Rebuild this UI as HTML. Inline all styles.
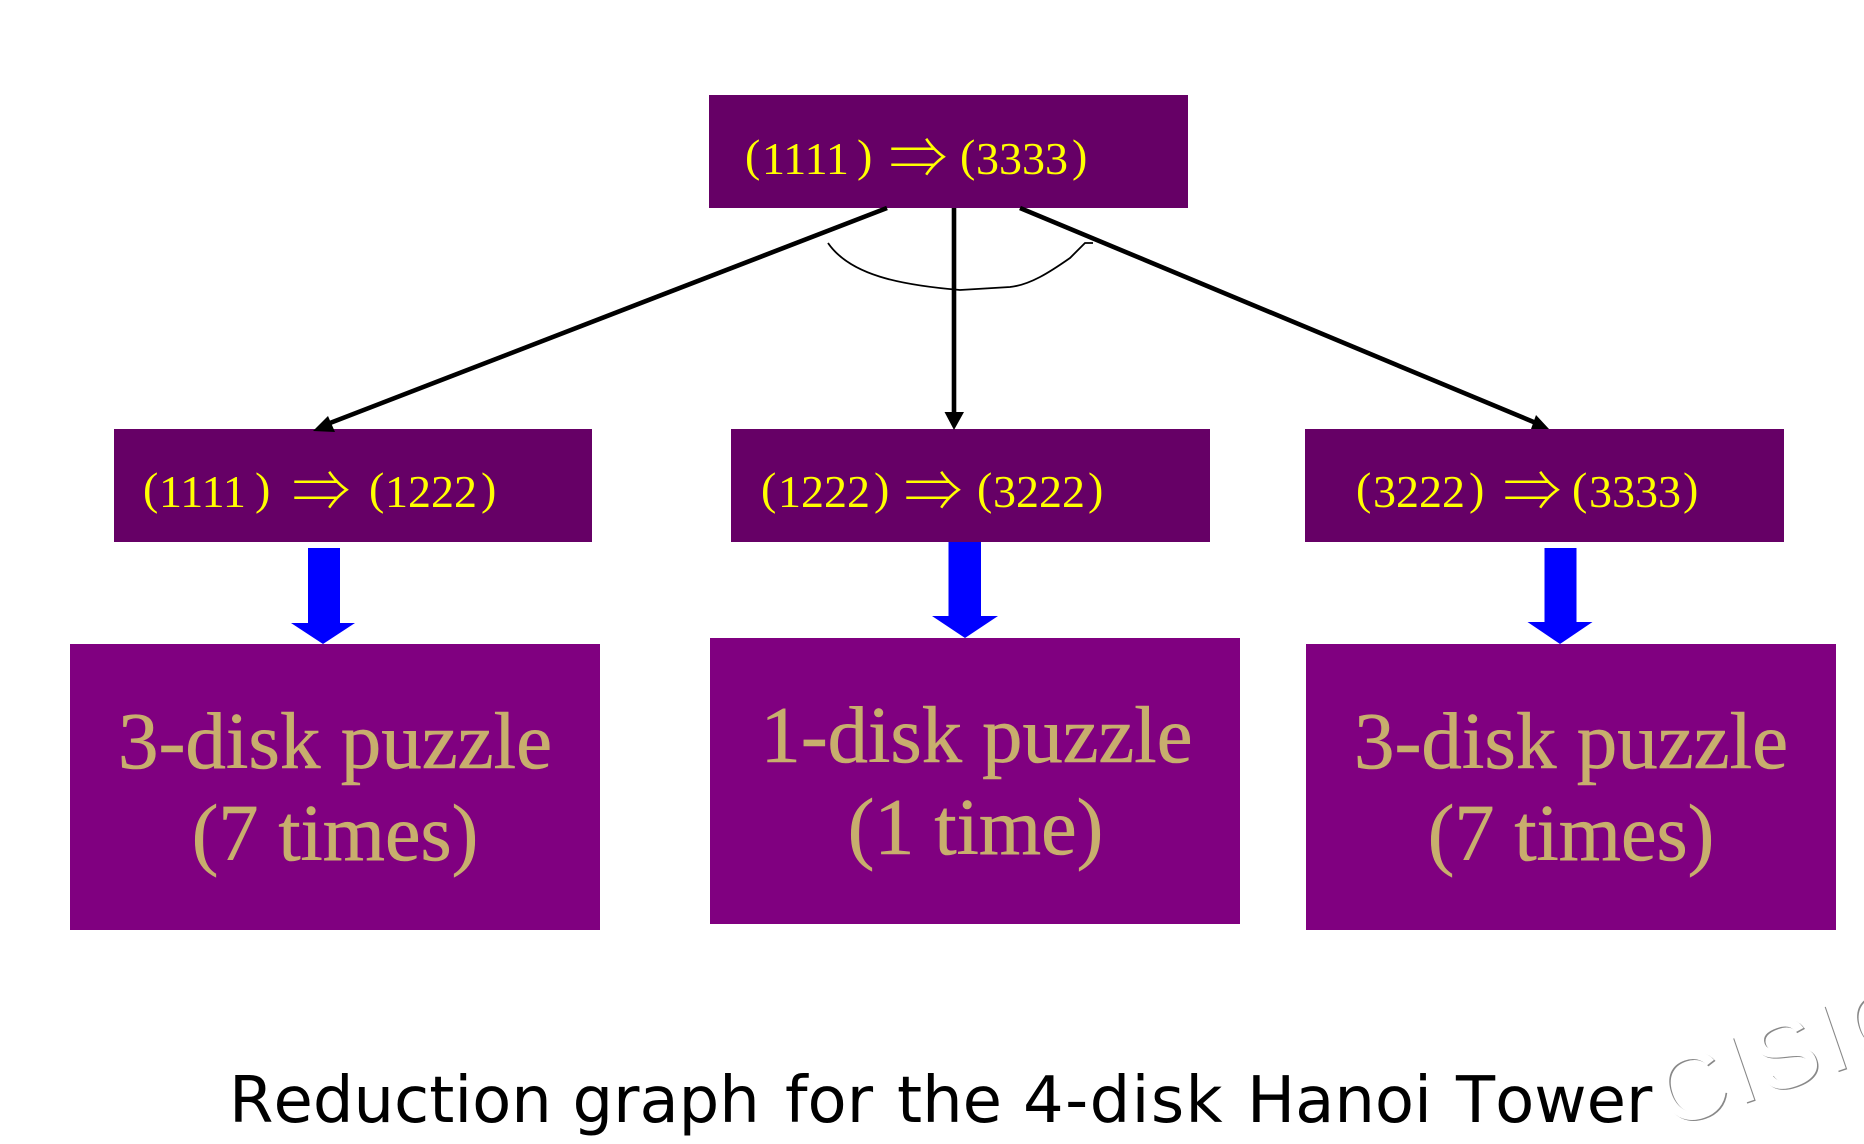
<!DOCTYPE html>
<html><head><meta charset="utf-8"><title>Reduction graph for the 4-disk Hanoi Tower</title>
<style>html,body{margin:0;padding:0;background:#fff;width:1864px;height:1144px;overflow:hidden}svg{display:block}
.t{font-family:"Liberation Serif",serif;font-size:46px;fill:#ff0}
.a{font-family:"Noto Serif CJK SC","Liberation Serif",serif;font-size:58px;fill:#ff0}
.b{font-family:"Liberation Serif",serif;font-size:81px;fill:#c8ae6d;stroke:#c8ae6d;stroke-width:.6px;text-anchor:middle}
.c{font-size:80px}
.d{font-size:80.6px}
</style></head><body>
<svg width="1864" height="1144" viewBox="0 0 1864 1144" xmlns="http://www.w3.org/2000/svg">
<rect width="1864" height="1144" fill="#fff"/>
<rect x="709" y="95" width="479" height="113" fill="#660066"/>
<rect x="114" y="429" width="478" height="113" fill="#660066"/>
<rect x="731" y="429" width="479" height="113" fill="#660066"/>
<rect x="1305" y="429" width="479" height="113" fill="#660066"/>
<rect x="70" y="644" width="530" height="286" fill="#800080"/>
<rect x="710" y="638" width="530" height="286" fill="#800080"/>
<rect x="1306" y="644" width="530" height="286" fill="#800080"/>
<g stroke="#000" stroke-width="4.6" fill="none">
<path d="M887 208L330 423"/><path d="M954 208V414"/><path d="M1020 208L1536 423"/>
</g>
<path d="M313 431L328 416L335 432Z M944.5 412H964L954 430Z M1549 429L1536 415L1531 429Z" fill="#000"/>
<path d="M828 243C850 275 900 285 960 290L1010 287C1030 285 1050 272 1070 258L1085 243H1093" fill="none" stroke="#000" stroke-width="1.8"/>
<path d="M308 548H340V623H355L323 644L291 623H308Z M948.5 542H981V616H998L965 638L932 616H948.5Z M1544.5 548H1576.5V622H1592.5L1560 644L1527.5 622H1544.5Z" fill="#00f"/>
<g class="t">
<text class="t" x="745" y="171">(</text><text class="t" x="762" y="174">1111</text><text class="t" x="857" y="171">)</text>
<text class="a" x="889" y="178">⇒</text>
<text class="t" x="960" y="171">(</text><text class="t" x="976" y="174">3333</text><text class="t" x="1072" y="171">)</text>
<text class="t" x="143" y="504">(</text><text class="t" x="159" y="507">1111</text><text class="t" x="255" y="504">)</text>
<text class="a" x="292" y="511">⇒</text>
<text class="t" x="369" y="504">(</text><text class="t" x="385" y="507">1222</text><text class="t" x="481" y="504">)</text>
<text class="t" x="761" y="504">(</text><text class="t" x="778" y="507">1222</text><text class="t" x="874" y="504">)</text>
<text class="a" x="904" y="511">⇒</text>
<text class="t" x="977" y="504">(</text><text class="t" x="993" y="507">3222</text><text class="t" x="1088" y="504">)</text>
<text class="t" x="1356" y="504">(</text><text class="t" x="1373" y="507">3222</text><text class="t" x="1469" y="504">)</text>
<text class="a" x="1503" y="511">⇒</text>
<text class="t" x="1572" y="504">(</text><text class="t" x="1589" y="507">3333</text><text class="t" x="1683" y="504">)</text>
</g>
<text class="b" x="335" y="768">3-disk puzzle</text><text class="b c" x="335" y="860">(7 times)</text>
<text class="b d" x="976.5" y="762">1-disk puzzle</text><text class="b c" x="975.5" y="854">(1 time)</text>
<text class="b" x="1571" y="768">3-disk puzzle</text><text class="b c" x="1571" y="860">(7 times)</text>
<text y="1122" font-family="'DejaVu Sans',sans-serif" font-size="64" fill="#000" style="font-kerning:none"><tspan x="229">Reduction</tspan> <tspan x="572.5">graph</tspan> <tspan x="785">for</tspan> <tspan x="897">the</tspan> <tspan x="1023" letter-spacing="1.4">4-disk</tspan> <tspan x="1247">Hanoi</tspan> <tspan x="1456">Tower</tspan></text>
<g font-family="'Liberation Sans',sans-serif" font-size="96" letter-spacing="3">
<text transform="translate(1670.5 1130) rotate(-19)" fill="#888">CISIC</text>
<text transform="translate(1669 1129) rotate(-19)" fill="#fff">CISIC</text>
</g>
</svg>
</body></html>
